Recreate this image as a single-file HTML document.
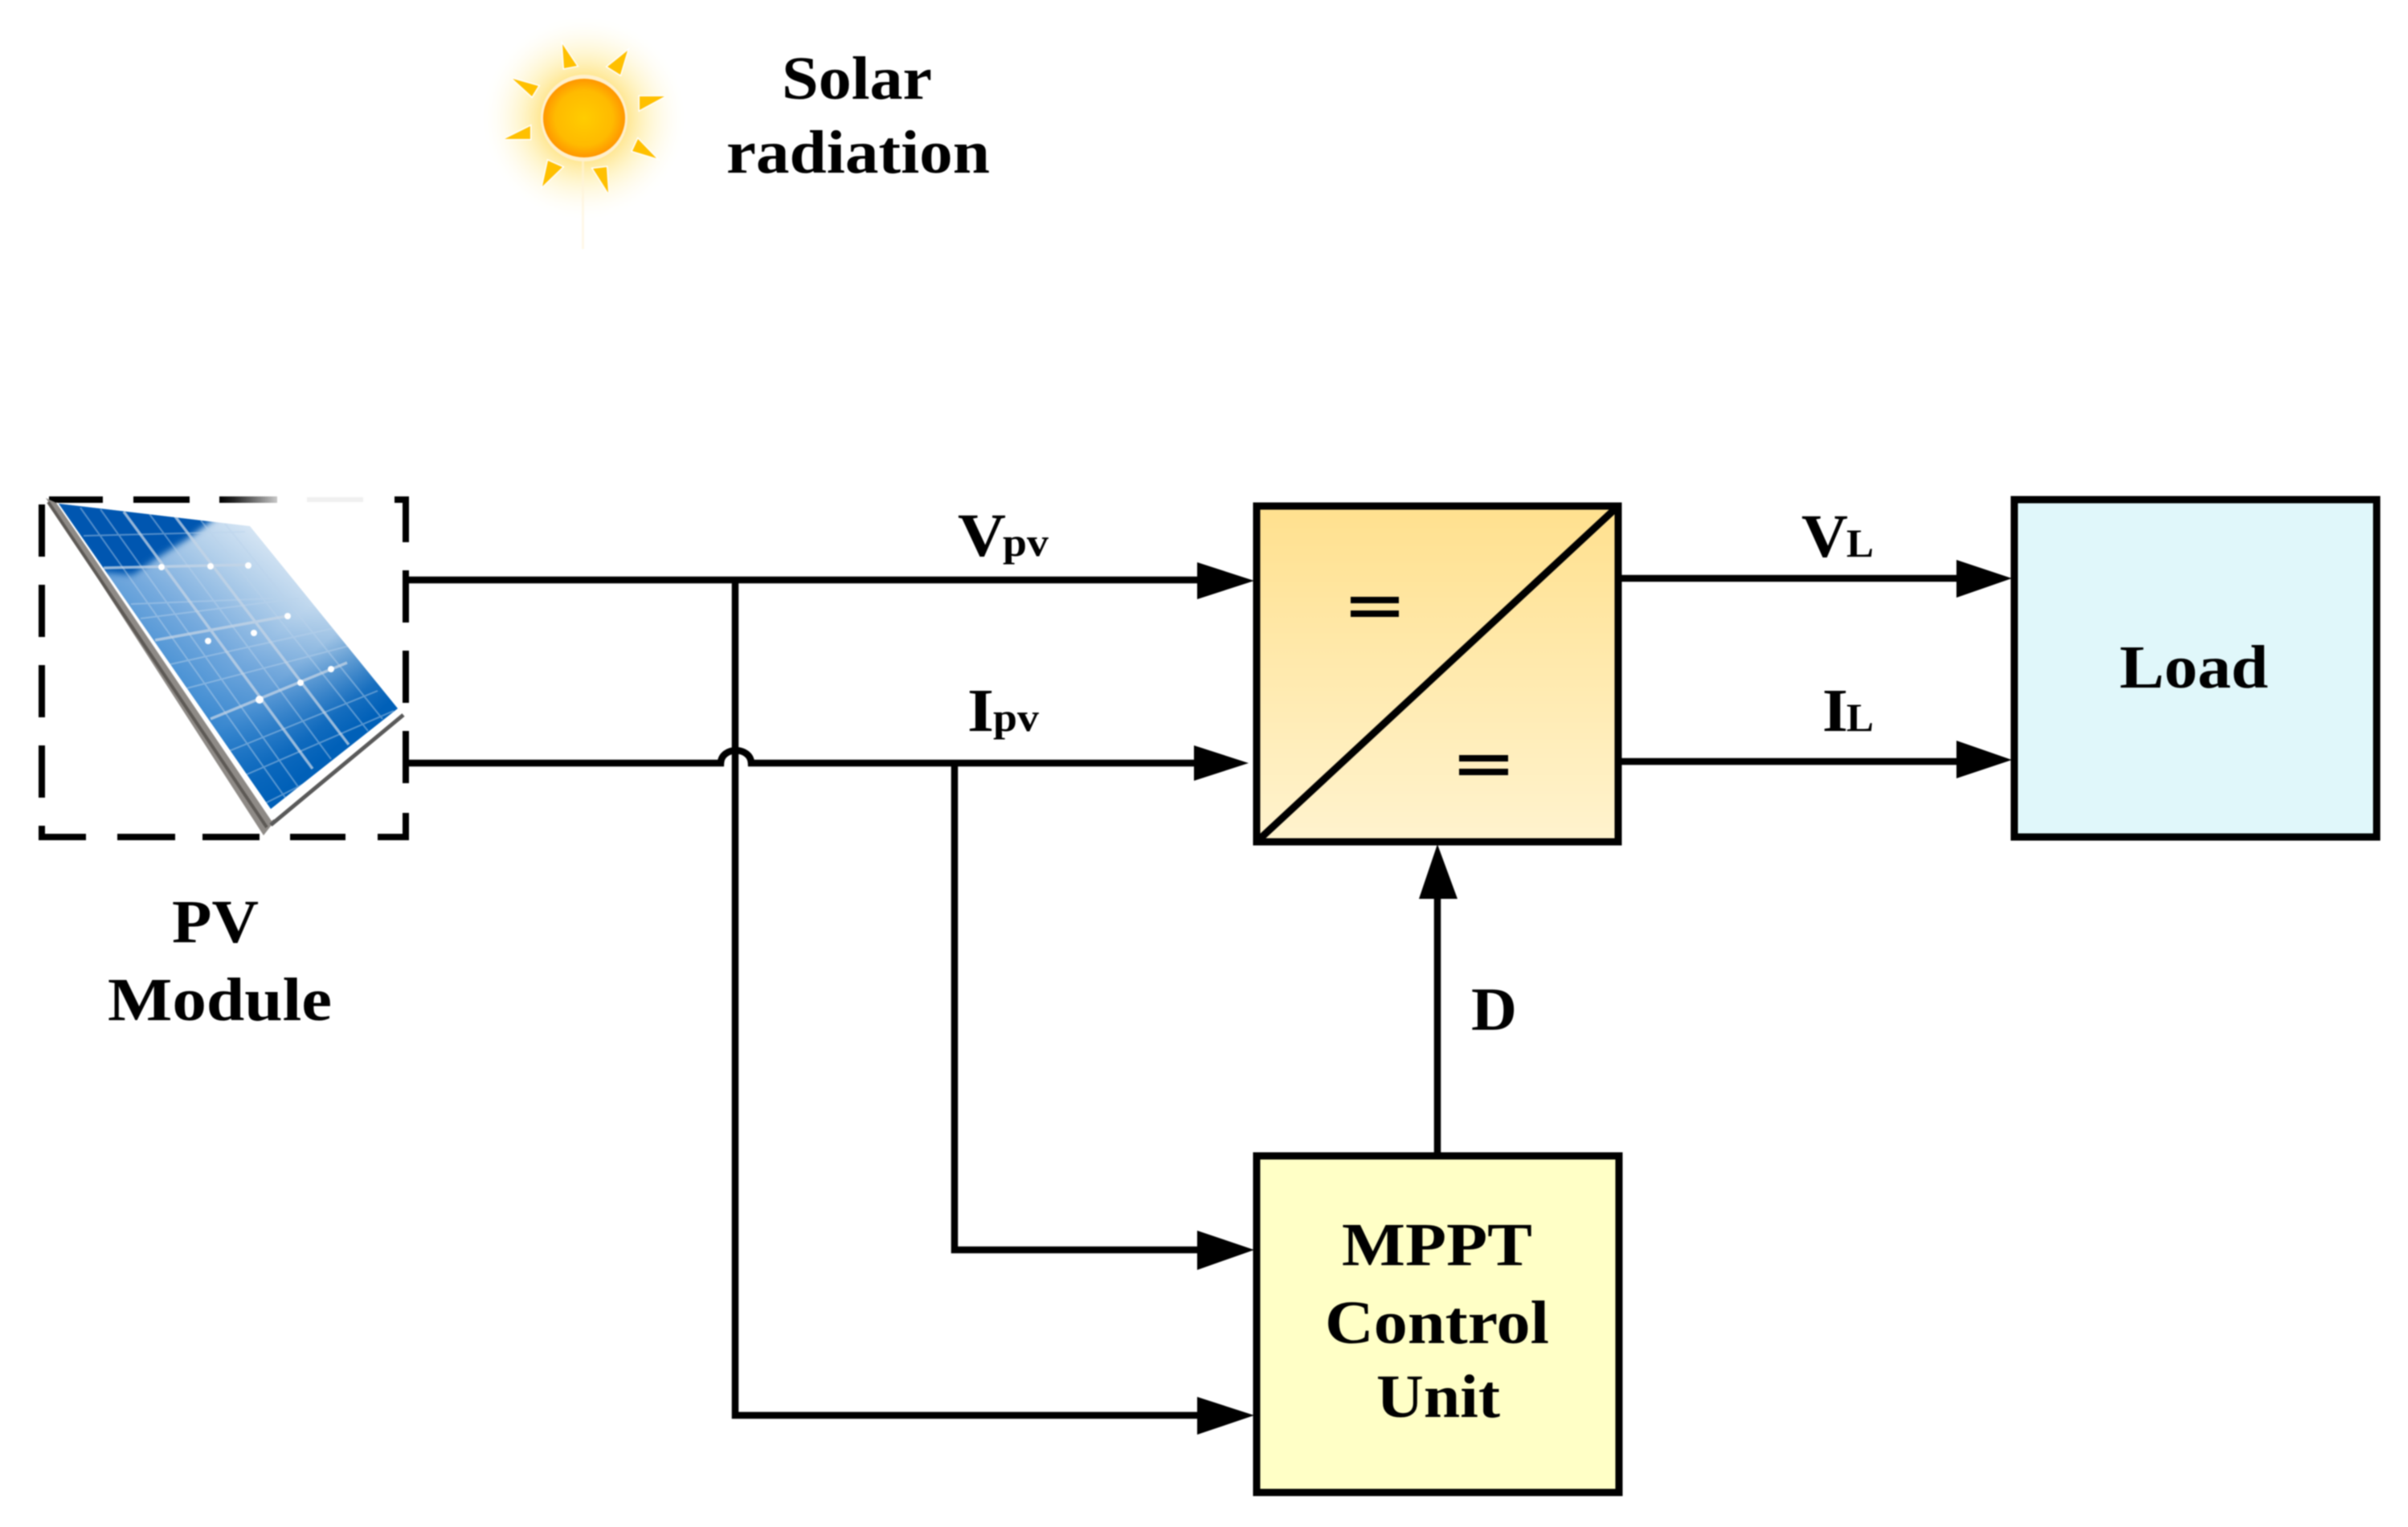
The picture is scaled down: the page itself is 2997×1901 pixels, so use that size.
<!DOCTYPE html>
<html>
<head>
<meta charset="utf-8">
<style>
html,body{margin:0;padding:0;background:#fff;}
svg{display:block;filter:blur(0.8px);}
text{font-family:"Liberation Serif",serif;font-weight:bold;fill:#000;}
</style>
</head>
<body>
<svg width="2997" height="1901" viewBox="0 0 2997 1901" xmlns="http://www.w3.org/2000/svg">
<defs>
  <linearGradient id="conv" x1="0" y1="0" x2="0" y2="1">
    <stop offset="0" stop-color="#FFE08E"/>
    <stop offset="1" stop-color="#FFF3CE"/>
  </linearGradient>
  <radialGradient id="glow" cx="727" cy="147" r="130" gradientUnits="userSpaceOnUse">
    <stop offset="0.4" stop-color="#FFE690"/>
    <stop offset="0.6" stop-color="#FFF2BC" stop-opacity="0.75"/>
    <stop offset="0.8" stop-color="#FFF9E2" stop-opacity="0.45"/>
    <stop offset="1" stop-color="#FFFFFF" stop-opacity="0"/>
  </radialGradient>
  <radialGradient id="sun" cx="0.5" cy="0.5" r="0.5">
    <stop offset="0" stop-color="#FFCC00"/>
    <stop offset="0.7" stop-color="#FFBA00"/>
    <stop offset="1" stop-color="#FF9600"/>
  </radialGradient>
  <linearGradient id="panelBase" x1="170" y1="960" x2="400" y2="660" gradientUnits="userSpaceOnUse">
    <stop offset="0" stop-color="#0A66BC"/>
    <stop offset="0.28" stop-color="#3F8CD2"/>
    <stop offset="0.5" stop-color="#74A9DD"/>
    <stop offset="0.72" stop-color="#B2CFEA"/>
    <stop offset="1" stop-color="#F4F8FC"/>
  </linearGradient>
  <linearGradient id="panelLow" x1="330" y1="800" x2="430" y2="920" gradientUnits="userSpaceOnUse">
    <stop offset="0" stop-color="#0060B8" stop-opacity="0"/>
    <stop offset="0.3" stop-color="#0060B8" stop-opacity="0.12"/>
    <stop offset="0.8" stop-color="#0060B8" stop-opacity="0.85"/>
    <stop offset="1" stop-color="#0060B8" stop-opacity="1"/>
  </linearGradient>
  <linearGradient id="dashFade" x1="273" y1="0" x2="345" y2="0" gradientUnits="userSpaceOnUse">
    <stop offset="0" stop-color="#000"/>
    <stop offset="0.25" stop-color="#222"/>
    <stop offset="1" stop-color="#C8C8C8"/>
  </linearGradient>
  <clipPath id="panelClip">
    <path d="M73 627 L311 655 L495 882 L337 1007 Z"/>
  </clipPath>
  <filter id="soft" x="-20%" y="-20%" width="140%" height="140%">
    <feGaussianBlur stdDeviation="4"/>
  </filter>
</defs>

<rect width="2997" height="1901" fill="#fff"/>

<!-- Sun -->
<circle cx="727" cy="147" r="130" fill="url(#glow)"/>
<rect x="724" y="200" width="3" height="110" fill="#FFF4D8" opacity="0.6"/>
<circle cx="727" cy="147" r="54" fill="#FFF0CC"/>
<ellipse cx="727" cy="147" rx="51" ry="49" fill="url(#sun)"/>
<g fill="#FFC000" stroke="#fff" stroke-width="3" paint-order="stroke">
  <polygon points="700,55 718,82 702,85"/>
  <polygon points="781,63 772,93 756,83"/>
  <polygon points="827,120 796,137 796,120"/>
  <polygon points="817,197 787,188 794,173"/>
  <polygon points="757,240 738,210 755,208"/>
  <polygon points="675,232 682,200 700,208"/>
  <polygon points="628,173 660,157 660,173"/>
  <polygon points="638,98 670,107 662,120"/>
</g>

<text x="973" y="123" font-size="76" textLength="187" lengthAdjust="spacingAndGlyphs">Solar</text>
<text x="904" y="215" font-size="76" textLength="328" lengthAdjust="spacingAndGlyphs">radiation</text>

<!-- PV module dashed box -->
<g fill="none" stroke="#000" stroke-width="8">
  <path d="M61 622 H128 M166 622 H236"/>
  <path d="M491 622 H505 V675 M505 710 V775 M505 810 V875 M505 910 V975 M505 1012 V1042 H470"/>
  <path d="M430 1042 H361 M323 1042 H252 M218 1042 H146 M107 1042 H52 V1028"/>
  <path d="M52 993 V928 M52 893 V828 M52 793 V728 M52 693 V628"/>
</g>
<rect x="273" y="618" width="72" height="8" fill="url(#dashFade)"/>
<rect x="382" y="619" width="70" height="6" fill="#F0F0F0"/>

<!-- Panel -->
<polygon points="57,620 70,626 342,1022 328,1040" fill="#8E8A86"/>
<line x1="60" y1="625" x2="332" y2="1030" stroke="#5E5A56" stroke-width="4"/>
<line x1="337" y1="1027" x2="502" y2="890" stroke="#5A5A5A" stroke-width="5"/>
<polygon points="70,625 73,627 337,1007 495,882 500,888 338,1022" fill="#fff"/>
<g clip-path="url(#panelClip)">
  <rect x="60" y="620" width="450" height="400" fill="url(#panelBase)"/>
  <rect x="60" y="620" width="450" height="400" fill="url(#panelLow)"/>
  <polygon points="60,620 275,640 232,672 195,695 165,716 125,712" fill="#0056B0" filter="url(#soft)"/>
  <!-- minor grid -->
  <g stroke="#BBD3EC" stroke-width="2" opacity="0.45" fill="none">
    <line x1="100" y1="632" x2="360" y2="1000"/>
    <line x1="125" y1="634" x2="375" y2="985"/>
    <line x1="186" y1="640" x2="412" y2="945"/>
    <line x1="250" y1="648" x2="458" y2="910"/>
    <line x1="280" y1="652" x2="476" y2="895"/>
    <line x1="104" y1="667" x2="305" y2="662"/>
    <line x1="163" y1="752" x2="340" y2="745"/>
    <line x1="175" y1="770" x2="372" y2="745"/>
    <line x1="212" y1="827" x2="425" y2="780"/>
    <line x1="232" y1="857" x2="450" y2="800"/>
    <line x1="285" y1="935" x2="470" y2="860"/>
    <line x1="305" y1="965" x2="490" y2="885"/>
    <line x1="330" y1="1000" x2="430" y2="950"/>
  </g>
  <!-- major grid -->
  <g stroke="#C4D5E6" stroke-width="3.5" opacity="0.75" fill="none">
    <line x1="129" y1="707" x2="309" y2="703"/>
    <line x1="193" y1="797" x2="357" y2="767"/>
    <line x1="262" y1="895" x2="432" y2="825"/>
    <line x1="154" y1="637" x2="389" y2="957"/>
    <line x1="218" y1="643" x2="434" y2="927"/>
  </g>
  <g fill="#fff">
    <circle cx="201" cy="706" r="4"/>
    <circle cx="262" cy="705" r="4"/>
    <circle cx="309" cy="704" r="4"/>
    <circle cx="259" cy="798" r="4"/>
    <circle cx="316" cy="788" r="4"/>
    <circle cx="358" cy="767" r="4"/>
    <circle cx="323" cy="871" r="5"/>
    <circle cx="374" cy="850" r="4"/>
    <circle cx="412" cy="833" r="4"/>
  </g>
</g>

<text x="214" y="1173" font-size="76" textLength="108" lengthAdjust="spacingAndGlyphs">PV</text>
<text x="134" y="1270" font-size="76" textLength="279" lengthAdjust="spacingAndGlyphs">Module</text>

<!-- Wires -->
<g fill="none" stroke="#000" stroke-width="8.5">
  <path d="M505 722 H1500"/>
  <path d="M505 950 H897 C898 929 934 929 935 950 H1495"/>
  <path d="M915 722 V1762 H1500"/>
  <path d="M1188 950 V1556 H1500"/>
  <path d="M2016 720 H2445"/>
  <path d="M2016 948 H2445"/>
  <path d="M1789 1439 V1100"/>
</g>
<!-- Arrowheads -->
<g fill="#000">
  <polygon points="1490,700 1561,723 1490,746"/>
  <polygon points="1486,928 1554,950 1486,972"/>
  <polygon points="1490,1532 1561,1556 1490,1581"/>
  <polygon points="1490,1739 1561,1762 1490,1786"/>
  <polygon points="2435,697 2504,720 2435,744"/>
  <polygon points="2435,922 2504,946 2435,969"/>
  <polygon points="1766,1119 1789,1051 1814,1119"/>
</g>

<!-- Converter -->
<rect x="1564" y="630" width="450" height="418" fill="url(#conv)" stroke="#000" stroke-width="9"/>
<line x1="1564" y1="1048" x2="2014" y2="630" stroke="#000" stroke-width="9"/>
<g fill="#000">
  <rect x="1681" y="743" width="60" height="8"/>
  <rect x="1681" y="760" width="60" height="8"/>
  <rect x="1816" y="940" width="61" height="8"/>
  <rect x="1816" y="957" width="61" height="8"/>
</g>

<!-- Load -->
<rect x="2507" y="622" width="451" height="420" fill="#E0F7FA" stroke="#000" stroke-width="9"/>
<text x="2638" y="856" font-size="76" textLength="185" lengthAdjust="spacingAndGlyphs">Load</text>

<!-- MPPT -->
<rect x="1564" y="1439" width="451" height="419" fill="#FFFFC6" stroke="#000" stroke-width="9"/>
<text x="1670" y="1575" font-size="76" textLength="237" lengthAdjust="spacingAndGlyphs">MPPT</text>
<text x="1649" y="1672" font-size="76" textLength="279" lengthAdjust="spacingAndGlyphs">Control</text>
<text x="1713" y="1764" font-size="76" textLength="154" lengthAdjust="spacingAndGlyphs">Unit</text>

<!-- Signal labels -->
<text x="1192" y="692" font-size="76" textLength="60" lengthAdjust="spacingAndGlyphs">V</text>
<text x="1248" y="692" font-size="50" textLength="57" lengthAdjust="spacingAndGlyphs">pv</text>
<text x="1204" y="910" font-size="76" textLength="33" lengthAdjust="spacingAndGlyphs">I</text>
<text x="1236" y="910" font-size="50" textLength="57" lengthAdjust="spacingAndGlyphs">pv</text>
<text x="2242" y="693" font-size="76" textLength="58" lengthAdjust="spacingAndGlyphs">V</text>
<text x="2298" y="693" font-size="50" textLength="34" lengthAdjust="spacingAndGlyphs">L</text>
<text x="2268" y="910" font-size="76" textLength="32" lengthAdjust="spacingAndGlyphs">I</text>
<text x="2298" y="910" font-size="50" textLength="34" lengthAdjust="spacingAndGlyphs">L</text>
<text x="1831" y="1282" font-size="76" textLength="57" lengthAdjust="spacingAndGlyphs">D</text>
</svg>
</body>
</html>
